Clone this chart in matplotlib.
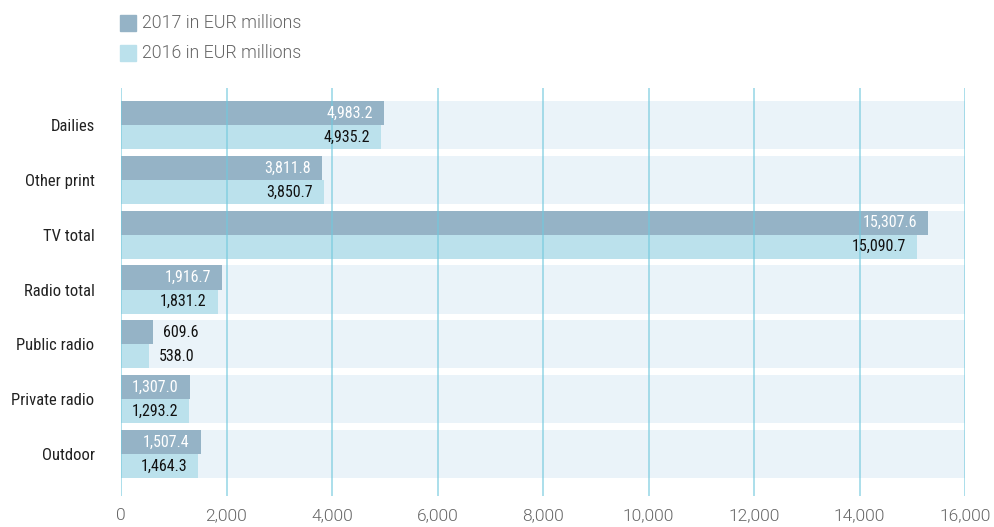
import numpy as np
import matplotlib.pyplot as plt
from matplotlib.patches import Rectangle
from matplotlib.ticker import FuncFormatter

categories = ["Dailies", "Other print", "TV total", "Radio total",
              "Public radio", "Private radio", "Outdoor"]
vals_2017 = [4983.2, 3811.8, 15307.6, 1916.7, 609.6, 1307.0, 1507.4]
vals_2016 = [4935.2, 3850.7, 15090.7, 1831.2, 538.0, 1293.2, 1464.3]
legend_labels = ["2017 in EUR millions", "2016 in EUR millions"]

c17 = "#95b3c6"
c16 = "#bbe1ec"
band = "#eaf3f9"
grid = "#72c9dd"
narrow = ["Roboto Condensed", "DejaVu Sans"]
light = ["Roboto", "DejaVu Sans"]

fig = plt.figure(figsize=(9.94, 5.27), dpi=100)
ax = fig.add_axes([121 / 994, 1 - 496 / 527, 844 / 994, 408 / 527])

y = np.arange(len(categories))
h = 0.438
xmax = 16000

# light background band behind each pair of bars
ax.barh(y, xmax, height=2 * h, color=band, zorder=0)
ax.barh(y - h / 2, vals_2017, height=h, color=c17, zorder=1)
ax.barh(y + h / 2, vals_2016, height=h, color=c16, zorder=1)

for xv in range(0, xmax + 1, 2000):
    ax.axvline(xv, color=grid, lw=1.1, alpha=0.75, zorder=2)

def lab(v, yy, inside_color):
    s = f"{v:,.1f}"
    if v > 1000:
        ax.annotate(s, (v, yy), xytext=(-8, 0), textcoords="offset points",
                    ha="right", va="center", color=inside_color,
                    family=narrow, fontsize=11.5, zorder=3)
    else:
        ax.annotate(s, (v, yy), xytext=(7, 0), textcoords="offset points",
                    ha="left", va="center", color="#111111",
                    family=narrow, fontsize=11.5, zorder=3)

for i in range(len(categories)):
    lab(vals_2017[i], y[i] - h / 2, "white")
    lab(vals_2016[i], y[i] + h / 2, "#111111")

ax.set_xlim(0, xmax)
ax.set_ylim(6.766, -0.675)
ax.set_xticks(range(0, xmax + 1, 2000))
ax.xaxis.set_major_formatter(FuncFormatter(lambda v, p: f"{int(v):,}"))
for t in ax.get_xticklabels():
    t.set_family(light)
    t.set_fontweight(300)
ax.set_yticks(y)
ax.set_yticklabels(categories, family=narrow, fontsize=12, color="#222222")
ax.tick_params(axis="y", length=0, pad=19)
ax.tick_params(axis="x", length=0, pad=9, labelsize=12.5, labelcolor="#666666")
for sp in ax.spines.values():
    sp.set_visible(False)

# legend drawn by hand at the top left
for k, (col, txt) in enumerate(zip([c17, c16], legend_labels)):
    top = 15 + 30 * k
    fig.add_artist(Rectangle((120 / 994, 1 - (top + 16) / 527), 16 / 994, 16 / 527,
                             transform=fig.transFigure, color=col))
    fig.text(142 / 994, 1 - (top + 8) / 527, txt, ha="left", va="center",
             fontsize=12.8, color="#666666", family=light, fontweight=300)

fig.savefig("out.png", dpi=100)
